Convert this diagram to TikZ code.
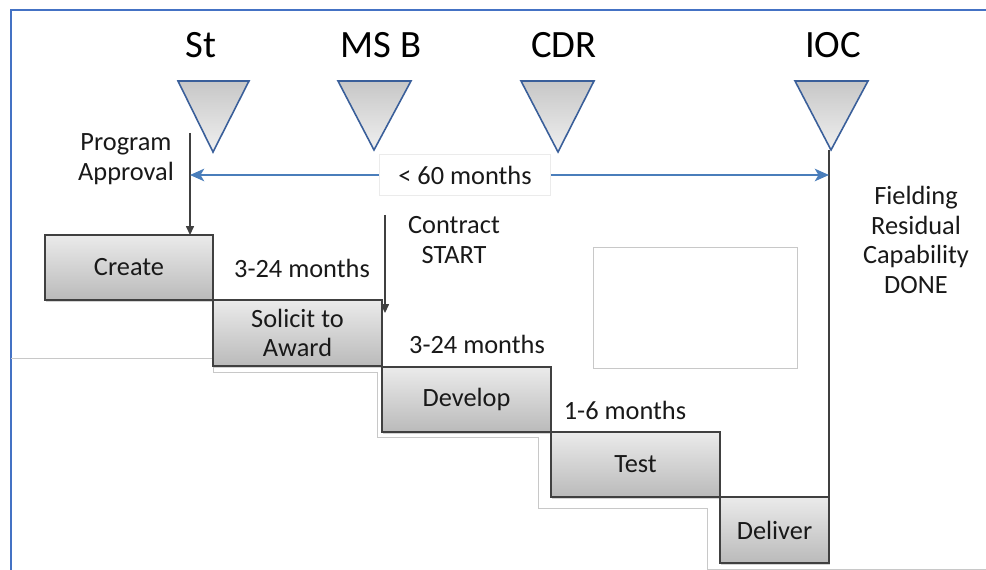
\documentclass[tikz,border=0pt]{standalone}
\usepackage{fontspec}
\setmainfont{Carlito}
\usetikzlibrary{arrows.meta,shadows}
\definecolor{frameblue}{HTML}{4472C4}
\definecolor{spanblue}{HTML}{4A7EBB}
\definecolor{mileedge}{HTML}{3A5F9A}
\definecolor{ghost}{HTML}{C8C8C8}
\tikzset{
  phase/.style={draw=black!75, line width=0.9pt, top color=black!8, bottom color=black!27,
    inner sep=0pt, outer sep=0pt, minimum height=1.3cm, align=center, text=black!90,
    font=\fontsize{15}{16.5}\selectfont,
    drop shadow={shadow xshift=0.6pt, shadow yshift=-1pt, opacity=0.35}},
  milestone/.style={draw=mileedge, line width=0.9pt, top color=black!22, bottom color=black!6},
  milelabel/.style={anchor=base, font=\fontsize{22}{24}\selectfont, text=black},
  remark/.style={font=\fontsize{15}{16.8}\selectfont, text=black!90, align=center},
  pointer/.style={draw=black!75, line width=0.7pt, -{Triangle[length=5pt,width=4.5pt]}},
  spanarrow/.style={draw=spanblue, line width=1.5pt,
    {Stealth[length=8pt,width=7pt,inset=2pt]}-{Stealth[length=8pt,width=7pt,inset=2pt]}},
  spanlabel/.style={remark, fill=white, draw=black!8, inner sep=0pt,
    minimum width=3.42cm, minimum height=0.82cm},
  ghostline/.style={draw=ghost, line width=0.5pt}
}

\begin{document}
\begin{tikzpicture}[x=0.02cm, y=-0.02cm]
  %%%%% START %%%%%
  \useasboundingbox (0,0) rectangle (986,570);

  % slide frame and leftover edges
  \draw[frameblue, line width=1.1pt] (11,570) -- (11,10) -- (986,10);
  \draw[ghostline] (11,358) -- (213,358) -- (213,372) -- (377,372) -- (377,437) -- (538,437)
    -- (538,508) -- (707,508) -- (707,569) -- (986,569);
  \draw[ghostline] (593,247) rectangle (797,368);

  % milestones
  \coordinate (stTip) at (213,152);
  \coordinate (msbTip) at (374,150);
  \coordinate (cdrTip) at (558,152);
  \coordinate (iocTip) at (831,150);
  \draw[milestone] (178,81) -- (249,81) -- (stTip) -- cycle;
  \draw[milestone] (338,81) -- (411,81) -- (msbTip) -- cycle;
  \draw[milestone] (521,81) -- (594,81) -- (cdrTip) -- cycle;
  \draw[milestone] (795,81) -- (868,81) -- (iocTip) -- cycle;
  \node[milelabel] (st) at (201,58) {St};
  \node[milelabel] (msb) at (381,58) {MS B};
  \node[milelabel] (cdr) at (564,58) {CDR};
  \node[milelabel] (ioc) at (833,58) {IOC};

  % phases
  \node[phase, minimum width=3.36cm] (create) at (129,267.5) {Create};
  \node[phase, minimum width=3.38cm, minimum height=1.32cm] (solicit) at (297.5,333) {Solicit to\\Award};
  \node[phase, minimum width=3.38cm] (develop) at (466.5,399.5) {Develop};
  \node[phase, minimum width=3.38cm] (test) at (635.5,464.5) {Test};
  \node[phase, minimum width=2.18cm, minimum height=1.32cm] (deliver) at (774.5,530) {Deliver};

  % pointers
  \coordinate (approvalTop) at (190,133);
  \draw[pointer] (approvalTop) -- (approvalTop |- create.north);
  \coordinate (contractTop) at (385,215);
  \coordinate (contractEnd) at (385,313);
  \draw[pointer] (contractTop) -- (contractEnd);
  \draw[draw=black!75, line width=0.7pt] (deliver.north east |- iocTip) -- (deliver.north east);

  % overall span
  \coordinate (spanMid) at (465,175);
  \draw[spanarrow] (approvalTop |- spanMid) -- (deliver.north east |- spanMid);
  \node[spanlabel] (span) at (spanMid) {< 60 months};

  % notes
  \node[remark] (approval) at (126,159) {Program\\Approval};
  \node[remark] (contract) at (454,240) {Contract\\START};
  \node[remark, anchor=base] (solicitTime) at (302,278) {3-24 months};
  \node[remark, anchor=base] (developTime) at (477,354) {3-24 months};
  \node[remark, anchor=base] (testTime) at (625,419) {1-6 months};
  \node[remark] (fielding) at (916,240) {Fielding\\Residual\\Capability\\DONE};
  %%%%% END %%%%%
\end{tikzpicture}
\end{document}
